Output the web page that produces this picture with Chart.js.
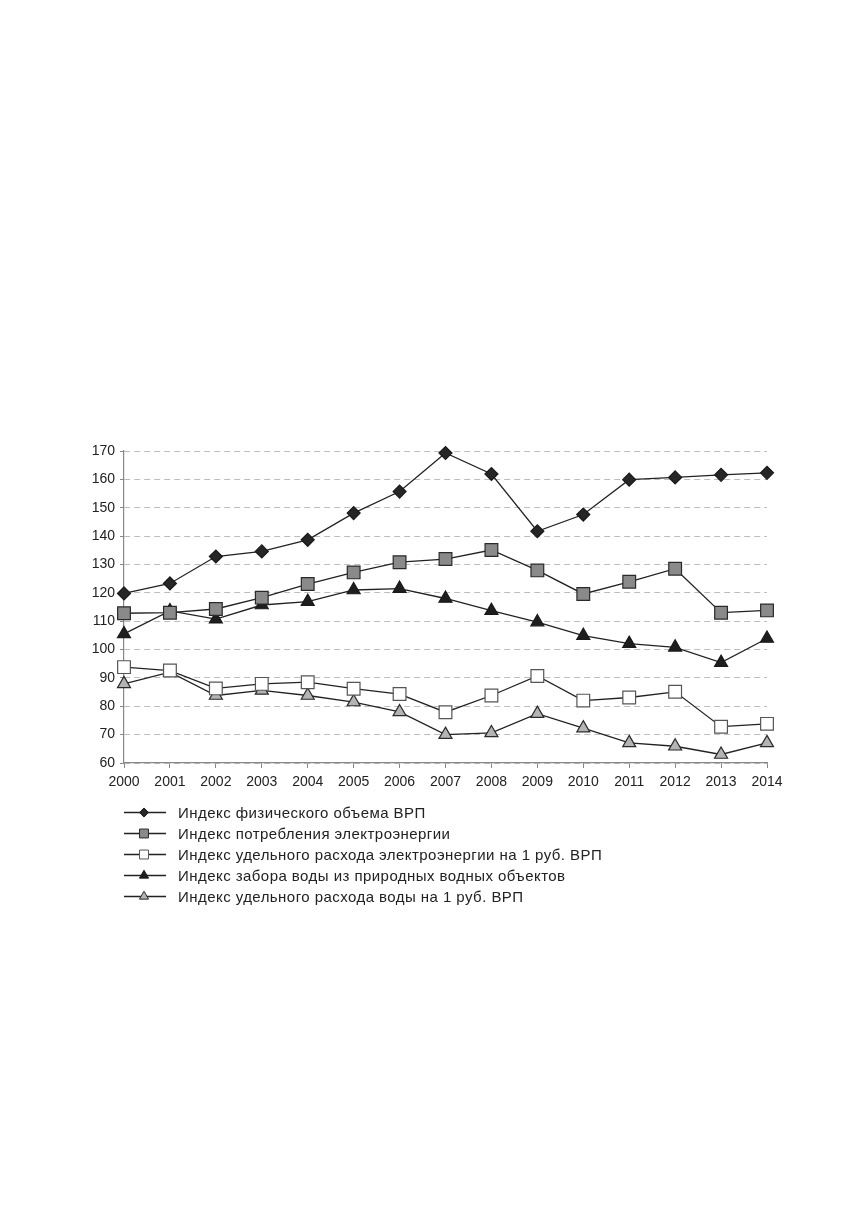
<!DOCTYPE html>
<html>
<head>
<meta charset="utf-8">
<script src="https://cdn.jsdelivr.net/npm/chart.js@4.4.1/dist/chart.umd.min.js"></script>
<style>
  html, body { margin: 0; padding: 0; background: #fff; }
  body { width: 856px; height: 1227px; position: relative; }
  #box { position: absolute; left: 0; top: 420px; width: 856px; height: 500px; }
</style>
</head>
<body>
<div id="box"><canvas id="chart"></canvas></div>
<script>
const years = ['2000','2001','2002','2003','2004','2005','2006','2007','2008','2009','2010','2011','2012','2013','2014'];

const grpIndex    = [119.8, 123.3, 132.8, 134.6, 138.7, 148.1, 155.7, 169.3, 161.9, 141.7, 147.6, 159.9, 160.7, 161.6, 162.3];
const powerIndex  = [112.8, 113.0, 114.3, 118.3, 123.1, 127.2, 130.8, 131.9, 135.1, 127.9, 119.6, 123.9, 128.5, 113.0, 113.8];
const powerPerRub = [93.8, 92.6, 86.3, 87.9, 88.5, 86.2, 84.3, 77.9, 83.8, 90.7, 82.0, 83.1, 85.1, 72.8, 73.8];
const waterIndex  = [105.5, 113.6, 110.7, 115.7, 116.9, 121.0, 121.5, 118.0, 113.7, 109.7, 104.9, 102.1, 100.8, 95.4, 103.9];
const waterPerRub = [87.9, 92.0, 83.8, 85.6, 83.8, 81.5, 78.0, 70.0, 70.6, 77.4, 72.3, 67.1, 65.9, 63.0, 67.1];

const seriesNames = [
  'Индекс физического объема ВРП',
  'Индекс потребления электроэнергии',
  'Индекс удельного расхода электроэнергии на 1 руб. ВРП',
  'Индекс забора воды из природных водных объектов',
  'Индекс удельного расхода воды на 1 руб. ВРП'
];

const yTicks = { min: 60, max: 170, step: 10 };

const FONT = '"Liberation Sans", Arial, sans-serif';
const LINE = '#222';

function series(label, data, style, radius, fill, border) {
  return {
    label: label,
    data: data,
    borderColor: LINE,
    borderWidth: 1.3,
    pointStyle: style,
    pointRadius: radius,
    pointHoverRadius: radius,
    pointBackgroundColor: fill,
    pointBorderColor: border,
    pointBorderWidth: 1.2,
    tension: 0,
    fill: false,
    clip: false
  };
}

// legend drawn under the plot: line + marker, then the text
const legendPlugin = {
  id: 'stackLegend',
  afterDraw(chart) {
    const ctx = chart.ctx;
    const area = chart.chartArea;
    ctx.save();
    chart.data.datasets.forEach((ds, i) => {
      const y = area.bottom + 49.5 + i * 21;
      ctx.strokeStyle = LINE;
      ctx.lineWidth = 1.3;
      ctx.beginPath();
      ctx.moveTo(area.left, y);
      ctx.lineTo(area.left + 42, y);
      ctx.stroke();
      ctx.fillStyle = ds.pointBackgroundColor;
      ctx.strokeStyle = ds.pointBorderColor;
      ctx.lineWidth = 1;
      Chart.helpers.drawPoint(ctx, {
        pointStyle: ds.pointStyle,
        radius: ds.pointRadius * 0.7,
        borderWidth: 1,
        rotation: 0
      }, area.left + 20, y);
      ctx.fillStyle = '#222';
      ctx.font = '15px ' + FONT;
      ctx.letterSpacing = '0.45px';
      ctx.textAlign = 'left';
      ctx.textBaseline = 'middle';
      ctx.fillText(ds.label, area.left + 54, y + 1);
    });
    ctx.restore();
  }
};

new Chart(document.getElementById('chart'), {
  type: 'line',
  data: {
    labels: years,
    datasets: [
      series(seriesNames[0], grpIndex, 'rectRot', 6.5, '#262626', '#1a1a1a'),
      series(seriesNames[1], powerIndex, 'rect', 9, '#8a8a8a', '#2a2a2a'),
      series(seriesNames[2], powerPerRub, 'rect', 9, '#ffffff', '#555555'),
      series(seriesNames[3], waterIndex, 'triangle', 7.5, '#1e1e1e', '#1a1a1a'),
      series(seriesNames[4], waterPerRub, 'triangle', 7.5, '#b4b4b4', '#2a2a2a')
    ]
  },
  options: {
    responsive: true,
    maintainAspectRatio: false,
    animation: false,
    layout: { padding: { left: 0, right: 89, top: 31, bottom: 127 } },
    plugins: {
      legend: { display: false },
      tooltip: { enabled: false }
    },
    scales: {
      x: {
        offset: false,
        afterFit(scale) { scale.height = 30; },
        grid: { display: true, drawOnChartArea: false, drawTicks: true, tickLength: 5, tickColor: '#888' },
        border: { display: true, color: '#888', width: 1.2 },
        ticks: { color: '#222', font: { family: FONT, size: 14 }, padding: 6, maxRotation: 0, autoSkip: false }
      },
      y: {
        min: yTicks.min,
        max: yTicks.max,
        afterFit(scale) { scale.width = 124; },
        grid: { color: '#bdbdbd', lineWidth: 1, drawTicks: true, tickLength: 4, tickColor: '#888' },
        border: { display: true, color: '#888', width: 1.2, dash: [6, 4] },
        ticks: { stepSize: yTicks.step, color: '#222', font: { family: FONT, size: 14 }, padding: 5 }
      }
    }
  },
  plugins: [legendPlugin]
});
</script>
</body>
</html>
